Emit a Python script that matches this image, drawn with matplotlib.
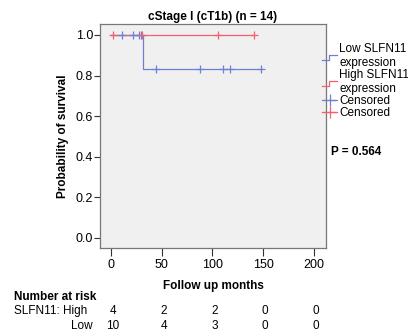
import numpy as np
import matplotlib
matplotlib.use("Agg")
import matplotlib.pyplot as plt
from matplotlib.lines import Line2D
from matplotlib.legend_handler import HandlerBase

plt.rcParams["font.family"] = ["Liberation Sans", "DejaVu Sans"]

# Kaplan-Meier steps
LOW_T = [0, 32, 148]
LOW_S = [1.0, 0.833, 0.833]
LOW_CENS_T = [11, 22, 28, 30, 44, 88, 110, 117, 148]
LOW_CENS_S = [1.0, 1.0, 1.0, 1.0, 0.833, 0.833, 0.833, 0.833, 0.833]
HIGH_T = [0, 141]
HIGH_S = [1.0, 1.0]
HIGH_CENS_T = [2, 31, 106, 141]
HIGH_CENS_S = [1.0, 1.0, 1.0, 1.0]

RISK_TIMES = [0, 50, 100, 150, 200]
RISK_HIGH = [4, 2, 2, 0, 0]
RISK_LOW = [10, 4, 3, 0, 0]

BLUE = "#6f80d4"
RED = "#f2606e"


class StepHandler(HandlerBase):
    def create_artists(self, legend, orig, xd, yd, w, h, fontsize, trans):
        xs = [xd, xd + w * 0.45, xd + w * 0.45, xd + w]
        ys = [yd + h * 0.0, yd + h * 0.0, yd + h * 0.7, yd + h * 0.7]
        ln = Line2D(xs, ys, color=orig.get_color(), lw=0.9, transform=trans)
        return [ln]


fig = plt.figure(figsize=(4.08, 3.33), dpi=100)
ax = fig.add_axes([0.245, 0.255, 0.554, 0.673])
ax.set_facecolor("#f0f0f0")

low_line, = ax.step(LOW_T, LOW_S, where="post", color=BLUE, lw=0.9)
high_line, = ax.step(HIGH_T, HIGH_S, where="post", color=RED, lw=0.9)
low_c, = ax.plot(LOW_CENS_T, LOW_CENS_S, ls="none", marker="+", ms=6,
                 mew=0.9, color=BLUE)
high_c, = ax.plot(HIGH_CENS_T, HIGH_CENS_S, ls="none", marker="+", ms=6,
                  mew=0.9, color=RED)

ax.set_xlim(-10.8, 212)
ax.set_ylim(-0.05, 1.054)
ax.set_xticks(RISK_TIMES)
ax.set_yticks(np.arange(0, 1.01, 0.2))
ax.set_yticklabels([f"{v:.1f}" for v in np.arange(0, 1.01, 0.2)])
ax.tick_params(axis="x", length=6, width=0.8, pad=2, labelsize=9,
               colors="#333333", labelcolor="black")
ax.tick_params(axis="y", length=4, width=0.8, pad=1, labelsize=9,
               colors="#333333", labelcolor="black")
for s in ax.spines.values():
    s.set_color("#777777")
    s.set_linewidth(0.9)

ax.set_title("cStage I (cT1b) (n = 14)", fontsize=8.5, fontweight="bold",
             pad=3)
ax.set_ylabel("Probability of survival", fontsize=8.5, fontweight="bold",
              labelpad=5)
ax.set_xlabel("Follow up months", fontsize=8.5, fontweight="bold", labelpad=6)

cens_low = Line2D([], [], color=BLUE, lw=0.9, marker="+", ms=8, mew=0.9,
                  markevery=[1])
cens_high = Line2D([], [], color=RED, lw=0.9, marker="+", ms=8, mew=0.9,
                   markevery=[1])
leg = fig.legend([low_line, high_line, cens_low, cens_high],
                 ["Low SLFN11\nexpression", "High SLFN11\nexpression",
                  "Censored", "Censored"],
                 handler_map={low_line: StepHandler(), high_line: StepHandler()},
                 loc="upper left", bbox_to_anchor=(0.778, 0.885),
                 frameon=False, fontsize=8.5, handlelength=1.3,
                 handletextpad=0.15, labelspacing=0.02, borderaxespad=0)

fig.text(0.812, 0.544, "P = 0.564", fontsize=8.5, fontweight="bold",
         va="center")

# number at risk table
fig.text(0.034, 0.108, "Number at risk", fontsize=8.5, fontweight="bold",
         va="center")
fig.text(0.034, 0.067, "SLFN11: High", fontsize=8.5, va="center")
fig.text(0.227, 0.021, "Low", fontsize=8.5, va="center", ha="right")
for t, h, l in zip(RISK_TIMES, RISK_HIGH, RISK_LOW):
    xf = fig.transFigure.inverted().transform(ax.transData.transform((t, 0)))[0]
    fig.text(xf + 0.005, 0.067, str(h), fontsize=8.5, va="center", ha="center")
    fig.text(xf + 0.005, 0.021, str(l), fontsize=8.5, va="center", ha="center")

fig.savefig("out.png", dpi=100)
